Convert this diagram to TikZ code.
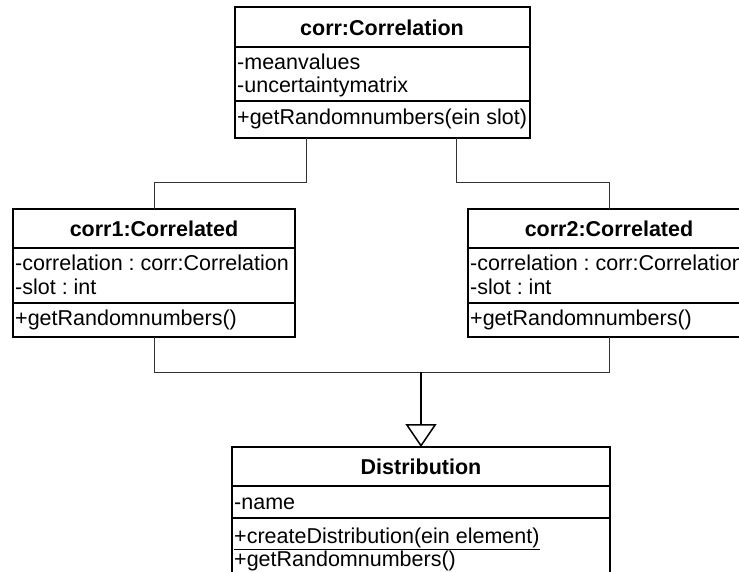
\documentclass[tikz,border=0pt]{standalone}
\usepackage{fontspec}
\setmainfont{Liberation Sans}
\usetikzlibrary{arrows.meta,calc}
\frenchspacing
\begin{document}
\begin{tikzpicture}[x=1pt,y=-1pt,
  classbox/.style={draw=black, line width=1.6pt, fill=white, rectangle,
    inner sep=0pt, outer sep=0pt, anchor=north west},
  sep/.style={line width=1.6pt},
  member/.style={anchor=base west, inner sep=0pt, font=\fontsize{21.5}{24}\selectfont},
  clsname/.style={anchor=base, inner sep=0pt, font=\fontsize{21.5}{24}\selectfont\bfseries},
  conn/.style={line width=1pt, draw=black!80},
  gen/.style={line width=1.5pt, -{Triangle[open,length=23pt,width=31pt]}}]

\useasboundingbox (0,0) rectangle (739,571);
\clip (0,0) rectangle (739,571);

% class corr:Correlation
\node[classbox, minimum width=295pt, minimum height=131pt] (corr) at (235,7) {};
\draw[sep] ([yshift=-40pt]corr.north west) -- ([yshift=-40pt]corr.north east);
\draw[sep] ([yshift=-94pt]corr.north west) -- ([yshift=-94pt]corr.north east);
\node[clsname] (corrT) at (382,35) {corr:Correlation};
\node[member] (corrA1) at (237,69) {-meanvalues};
\node[member] (corrA2) at (237,92) {-uncertaintymatrix};
\node[member] (corrM1) at (237,124) {+getRandomnumbers(ein slot)};

% class corr1:Correlated
\node[classbox, minimum width=282pt, minimum height=128pt] (corr1) at (13,209) {};
\draw[sep] ([yshift=-39pt]corr1.north west) -- ([yshift=-39pt]corr1.north east);
\draw[sep] ([yshift=-94pt]corr1.north west) -- ([yshift=-94pt]corr1.north east);
\node[clsname] (c1T) at (154,236) {corr1:Correlated};
\node[member] (c1A1) at (15,270) {-correlation : corr:Correlation};
\node[member] (c1A2) at (15,294) {-slot : int};
\node[member] (c1M1) at (15,325) {+getRandomnumbers()};

% class corr2:Correlated
\node[classbox, minimum width=282pt, minimum height=128pt] (corr2) at (468,209) {};
\draw[sep] ([yshift=-39pt]corr2.north west) -- ([yshift=-39pt]corr2.north east);
\draw[sep] ([yshift=-94pt]corr2.north west) -- ([yshift=-94pt]corr2.north east);
\node[clsname] (c2T) at (609,236) {corr2:Correlated};
\node[member] (c2A1) at (470,270) {-correlation : corr:Correlation};
\node[member] (c2A2) at (470,294) {-slot : int};
\node[member] (c2M1) at (470,325) {+getRandomnumbers()};

% class Distribution
\node[classbox, minimum width=378pt, minimum height=140pt] (dist) at (232,447) {};
\draw[sep] ([yshift=-39pt]dist.north west) -- ([yshift=-39pt]dist.north east);
\draw[sep] ([yshift=-71pt]dist.north west) -- ([yshift=-71pt]dist.north east);
\node[clsname] (dT) at (421,474) {Distribution};
\node[member] (dA1) at (234,509) {-name};
\node[member] (dM1) at (234,543) {\underline{+createDistribution(ein element)}};
\node[member] (dM2) at (234,566) {+getRandomnumbers()};

% links from the correlation object to both correlated objects
\draw[conn] ([xshift=-76pt]corr.south) -- ++(0,-44pt) -| (corr1.north);
\draw[conn] ([xshift=74pt]corr.south) -- ++(0,-44pt) -| (corr2.north);

% generalization to Distribution
\draw[conn] (corr1.south) -- ++(0,-35pt) -| (corr2.south);
\coordinate (junc) at ($(corr1.south -| dist.north)+(0,-35pt)$);
\draw[gen] (junc) -- (dist.north);
\end{tikzpicture}
\end{document}
